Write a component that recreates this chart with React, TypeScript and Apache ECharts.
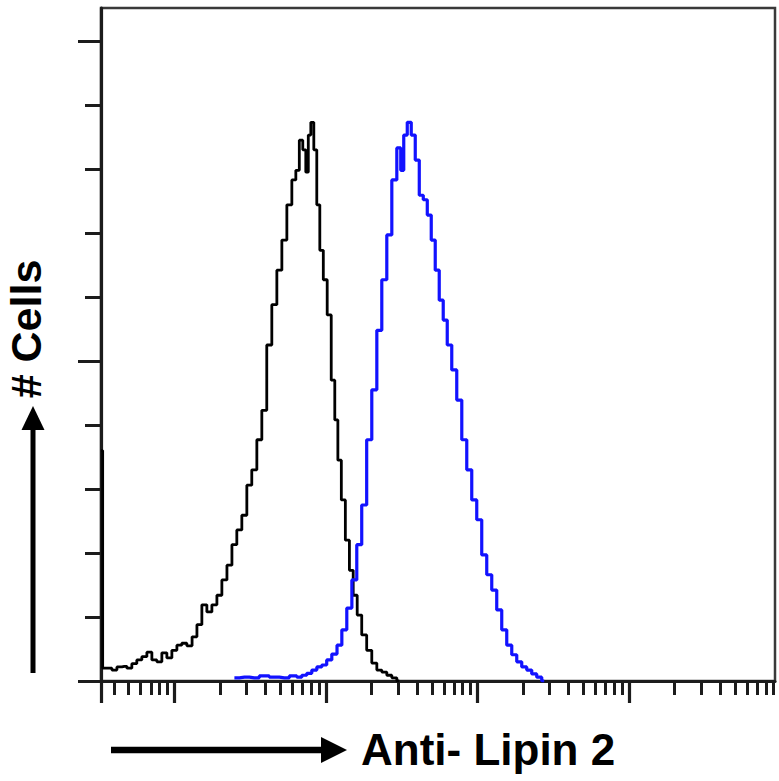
import React, { useEffect, useRef } from "react";
import * as echarts from "echarts";

// Fluorescence intensity (log axis) and cell counts
const controlIntensity = [3.28, 3.45, 3.73, 4.02, 4.34, 4.68, 5.05, 5.44, 5.87, 6.34, 6.84, 7.38, 7.96, 8.59, 9.27, 10, 10.8, 11.6, 12.6, 13.6, 14.6, 15.8, 17.0, 18.4, 19.8, 21.4, 23.1, 24.9, 26.8, 29.0, 31.2, 33.7, 36.4, 39.2, 42.3, 45.7, 49.3, 53.2, 57.4, 61.9, 64.8, 68.8, 72.0, 75.4, 77.7, 81.4, 85.1, 89.1, 93.3, 99.1, 105, 112, 117, 123, 130, 139, 147, 156, 166, 179, 193, 209, 225, 243, 262, 283, 305];
const controlCount = [36, 2.0, 2.0, 1.7, 2.2, 2.3, 2.0, 2.7, 3.3, 3.8, 4.5, 3.3, 3.0, 4.4, 3.6, 4.8, 5.6, 5.9, 5.5, 6.9, 8.8, 11.9, 10.8, 11.9, 13.4, 15.8, 18.1, 21.3, 23.6, 25.9, 30.6, 33.0, 37.7, 42.3, 52.5, 58.8, 64.2, 68.9, 74.4, 78.3, 79.8, 84.5, 83, 79.5, 85.3, 87.3, 83, 74.4, 67.3, 62.7, 57.2, 47, 40.8, 34.5, 28.3, 22, 17.3, 13.4, 10.3, 7.2, 4.8, 2.8, 1.7, 1.4, 0.9, 0.5, 0];

const lipinIntensity = [24.9, 29.0, 33.7, 39.2, 45.7, 53.2, 61.9, 66.8, 72.0, 77.7, 83.9, 90.5, 97.6, 105, 114, 123, 132, 143, 154, 166, 179, 193, 209, 225, 243, 262, 283, 305, 319, 334, 355, 377, 401, 426, 453, 481, 511, 543, 577, 613, 652, 703, 759, 819, 883, 953, 1028, 1109, 1197, 1291, 1393, 1503, 1622, 1750, 1888, 2037, 2197, 2371, 2558, 2760];
const lipinCount = [0.5, 0.6, 0.5, 0.8, 0.6, 0.5, 0.8, 0.6, 0.9, 1.2, 1.7, 2.2, 2.5, 3.3, 4.2, 5.6, 8.0, 11.4, 15.8, 21.3, 27.5, 37.7, 45.5, 54.8, 62.7, 69.7, 78.3, 83.3, 79.8, 85.3, 87.3, 85.3, 81.4, 75.9, 75.2, 72.8, 68.9, 64.2, 59.5, 56.4, 52.5, 48.6, 43.9, 37.7, 33, 28.3, 25.2, 19.7, 16.6, 14.2, 11.1, 8, 5.6, 4.1, 3.0, 2.2, 1.7, 1.1, 0.6, 0];

const xMin = 3.28;
const xMax = 92000;
const decades = [1, 10, 100, 1000, 10000];
const yMax = 105.16;
const yMinorTicks = [10, 20, 30, 40, 60, 70, 80, 90];
const yMajorTicks = [0, 50, 100];

const yLabel = "# Cells";
const xLabel = "Anti- Lipin 2";

export default function App() {
  const ref = useRef<HTMLDivElement>(null);
  useEffect(() => {
    if (!ref.current) return;
    const chart = echarts.init(ref.current, null, { renderer: "svg" });
    const lmin = Math.log10(xMin);
    const lmax = Math.log10(xMax);
    const majorX: number[] = [lmin];
    const minorX: number[] = [];
    decades.forEach((d) => {
      const l = Math.log10(d);
      if (l >= lmin && l <= lmax) majorX.push(l);
      for (let m = 2; m <= 9; m++) {
        const v = Math.log10(m * d);
        if (v > lmin && v < lmax) minorX.push(v);
      }
    });
    const axisColor = "#1c1c1c";
    const font = "'Liberation Sans', Arial, sans-serif";
    const tickAxisBase = {
      type: "value",
      min: lmin,
      max: lmax,
      position: "bottom",
      axisLine: { show: false },
      axisLabel: { show: false },
      splitLine: { show: false },
    };
    chart.setOption({
      animation: false,
      backgroundColor: "#ffffff",
      grid: {
        left: 101,
        top: 8,
        right: 4,
        bottom: 100,
        show: true,
        borderColor: "#3a3a3a",
        borderWidth: 2.5,
      },
      xAxis: [
        {
          type: "log",
          logBase: 10,
          min: xMin,
          max: xMax,
          position: "bottom",
          axisLine: { show: true, onZero: false, lineStyle: { color: axisColor, width: 3 } },
          axisTick: { show: false },
          axisLabel: { show: false },
          splitLine: { show: false },
          minorTick: { show: false },
        },
        {
          ...tickAxisBase,
          axisTick: { show: true, customValues: minorX, length: 14, lineStyle: { color: axisColor, width: 3 } },
        },
        {
          ...tickAxisBase,
          axisTick: { show: true, customValues: majorX, length: 22, lineStyle: { color: axisColor, width: 3.2 } },
        },
      ],
      yAxis: [
        {
          type: "value",
          min: 0,
          max: yMax,
          position: "left",
          axisLine: { show: true, lineStyle: { color: axisColor, width: 3.2 } },
          axisTick: { show: true, customValues: yMinorTicks, length: 16, lineStyle: { color: axisColor, width: 3 } },
          axisLabel: { show: false },
          splitLine: { show: false },
        },
        {
          type: "value",
          min: 0,
          max: yMax,
          position: "left",
          axisLine: { show: false },
          axisTick: { show: true, customValues: yMajorTicks, length: 23, lineStyle: { color: axisColor, width: 3 } },
          axisLabel: { show: false },
          splitLine: { show: false },
        },
      ],
      series: [
        {
          name: "Isotype control",
          type: "line",
          step: "middle",
          xAxisIndex: 0,
          yAxisIndex: 0,
          data: controlIntensity.map((v, i) => [v, controlCount[i]]),
          showSymbol: false,
          lineStyle: { color: "#000000", width: 2.8 },
          z: 3,
        },
        {
          name: "Anti-Lipin 2",
          type: "line",
          step: "middle",
          xAxisIndex: 0,
          yAxisIndex: 0,
          data: lipinIntensity.map((v, i) => [v, lipinCount[i]]),
          showSymbol: false,
          lineStyle: { color: "#1212ff", width: 3.2 },
          z: 4,
        },
      ],
      graphic: [
        {
          type: "text",
          x: 26,
          y: 329,
          rotation: Math.PI / 2,
          style: {
            text: yLabel,
            font: `bold 43px ${font}`,
            fill: "#000",
            align: "center",
            verticalAlign: "middle",
          },
        },
        {
          type: "line",
          shape: { x1: 33, y1: 673, x2: 33, y2: 426 },
          style: { stroke: "#000", lineWidth: 5 },
        },
        {
          type: "polygon",
          shape: { points: [[33, 406], [21.5, 430], [44.5, 430]] },
          style: { fill: "#000" },
        },
        {
          type: "line",
          shape: { x1: 111, y1: 750, x2: 326, y2: 750 },
          style: { stroke: "#000", lineWidth: 6.5 },
        },
        {
          type: "polygon",
          shape: { points: [[347, 750], [321, 737], [321, 763]] },
          style: { fill: "#000" },
        },
        {
          type: "text",
          x: 361,
          y: 749,
          style: {
            text: xLabel,
            font: `bold 44px ${font}`,
            fill: "#000",
            align: "left",
            verticalAlign: "middle",
          },
        },
      ],
    });
    return () => chart.dispose();
  }, []);
  return (
    <div
      ref={ref}
      style={{ position: "fixed", left: 0, top: 0, width: 779, height: 781 }}
    />
  );
}
